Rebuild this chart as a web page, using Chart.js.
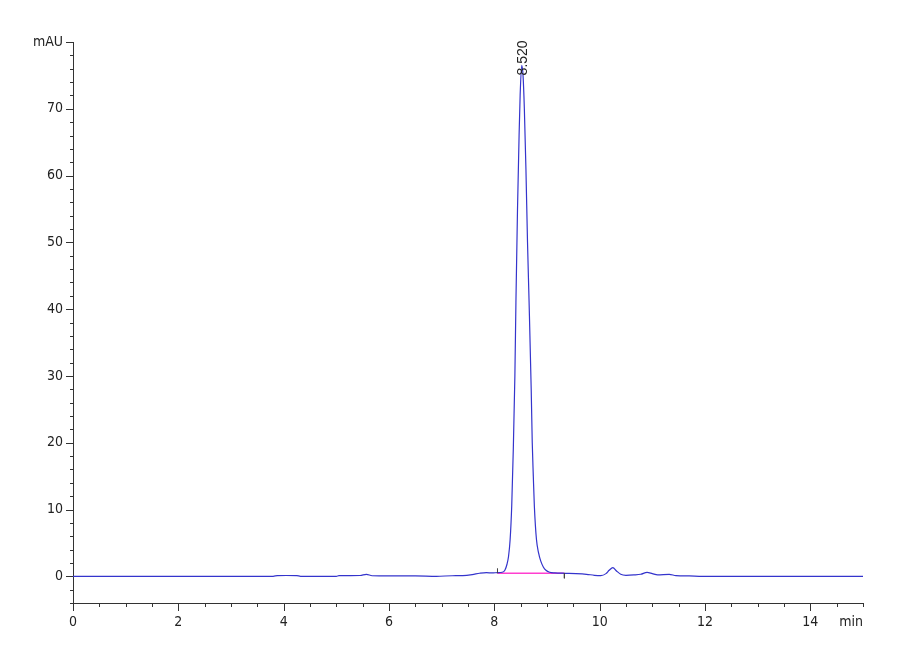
<!DOCTYPE html>
<html>
<head>
<meta charset="utf-8">
<script src="https://cdn.jsdelivr.net/npm/chart.js@4/dist/chart.umd.min.js"></script>
<style>
  html, body { margin: 0; padding: 0; background: #fff; }
  #wrap { width: 900px; height: 660px; }
</style>
</head>
<body>
<div id="wrap"><canvas id="chrom"></canvas></div>
<script>
// retention time (min) and detector signal (mAU)
var times = [0, 3.80, 3.88, 4.05, 4.25, 4.32, 5.00, 5.05, 5.45, 5.57, 5.68, 6.00, 6.50, 6.90,
  7.20, 7.40, 7.58, 7.72, 7.85, 7.96, 8.06, 8.15, 8.20, 8.24, 8.27, 8.30, 8.33, 8.36, 8.39,
  8.41, 8.44, 8.47, 8.49, 8.52, 8.545, 8.57, 8.60, 8.63, 8.66, 8.70, 8.72, 8.74, 8.76, 8.80,
  8.84, 8.88, 8.93, 8.98, 9.05, 9.15, 9.35, 9.55, 9.75, 9.90, 10.02, 10.12, 10.18, 10.25,
  10.32, 10.40, 10.50, 10.65, 10.78, 10.90, 11.00, 11.10, 11.32, 11.45, 11.70, 11.95, 12.5, 15];
var signal = [0, 0, 0.1, 0.12, 0.1, 0, 0, 0.1, 0.12, 0.3, 0.08, 0.05, 0.05, 0,
  0.08, 0.1, 0.25, 0.45, 0.55, 0.5, 0.55, 0.6, 0.9, 1.8, 3, 5.5, 10.5, 19, 30,
  41, 55, 66, 72, 76.5, 75, 70, 61, 50, 41, 28, 20, 15, 10.5, 5.5,
  3.5, 2.3, 1.4, 0.9, 0.6, 0.5, 0.45, 0.4, 0.3, 0.15, 0.1, 0.4, 0.9, 1.3,
  0.8, 0.3, 0.15, 0.2, 0.3, 0.6, 0.4, 0.2, 0.3, 0.1, 0.05, 0, 0, 0];

// integrated peak
var peakTime = 8.52;
var peakHeight = 76.5;
var peakStart = 8.06;
var peakEnd = 9.33;
var baselineLevel = 0.45;
var startMark = 1.2;
var endMark = -0.3;

var xTickLabels = [0, 2, 4, 6, 8, 10, 12, 14];
var yTickLabels = [0, 10, 20, 30, 40, 50, 60, 70];
var yUnit = 'mAU';
var xUnit = 'min';

var AXIS = '#333';
var TICK_FONT = "'Liberation Sans Narrow', 'DejaVu Sans Condensed', 'Liberation Sans', sans-serif";

var trace = times.map(function (t, i) { return { x: t, y: signal[i] }; });

// tick marks (long on labelled values) and the peak / unit labels
var decorations = {
  id: 'decorations',
  afterDraw: function (chart) {
    var c = chart.ctx, xs = chart.scales.x, ys = chart.scales.y;
    var area = chart.chartArea;
    c.save();
    c.strokeStyle = AXIS;
    c.lineWidth = 1;
    c.beginPath();
    for (var v = -4; v <= 80; v += 2) {
      var py = Math.round(ys.getPixelForValue(v)) + 0.5;
      var len = (v % 10 === 0) ? 7 : 3;
      c.moveTo(area.left - len, py);
      c.lineTo(area.left, py);
    }
    for (var k = 0; k <= 30; k++) {
      var t = k / 2;
      var px = Math.round(xs.getPixelForValue(t)) + 0.5;
      var l2 = (t % 2 === 0) ? 8 : 4;
      c.moveTo(px, area.bottom);
      c.lineTo(px, area.bottom + l2);
    }
    c.stroke();

    c.fillStyle = '#222';
    c.font = "14px " + TICK_FONT;
    c.textAlign = 'right';
    c.textBaseline = 'middle';
    c.fillText(xUnit, area.right, area.bottom + 19);

    // retention time label, rotated over the apex
    var ax = xs.getPixelForValue(peakTime) + 1;
    var ay = ys.getPixelForValue(peakHeight) + 10;
    c.translate(ax, ay);
    c.rotate(-Math.PI / 2);
    c.font = "14px 'Liberation Sans', 'DejaVu Sans', sans-serif";
    c.textAlign = 'left';
    c.fillText(peakTime.toFixed(3), 0, 0);
    c.restore();
  }
};

new Chart(document.getElementById('chrom'), {
  type: 'line',
  data: {
    datasets: [{
      data: trace,
      borderColor: '#3434cc',
      borderWidth: 1.2,
      pointRadius: 0,
      cubicInterpolationMode: 'monotone',
      order: 1
    }, {
      data: [{ x: peakStart, y: baselineLevel }, { x: peakEnd, y: baselineLevel }],
      borderColor: '#ff3fcf',
      borderWidth: 1.5,
      pointRadius: 0,
      order: 2
    }, {
      data: [{ x: peakStart, y: baselineLevel }, { x: peakStart, y: startMark }],
      borderColor: '#444',
      borderWidth: 1,
      pointRadius: 0,
      order: 0
    }, {
      data: [{ x: peakEnd, y: baselineLevel }, { x: peakEnd, y: endMark }],
      borderColor: '#444',
      borderWidth: 1,
      pointRadius: 0,
      order: 0
    }]
  },
  options: {
    responsive: true,
    maintainAspectRatio: false,
    animation: false,
    layout: { padding: { top: 42, right: 37, left: 0, bottom: 0 } },
    plugins: { legend: { display: false }, tooltip: { enabled: false } },
    scales: {
      x: {
        type: 'linear',
        min: 0,
        max: 15,
        grid: { display: false, drawTicks: true, tickLength: 8 },
        border: { display: true, color: AXIS, width: 1 },
        ticks: {
          stepSize: 0.5,
          autoSkip: false,
          maxRotation: 0,
          padding: 3,
          color: '#222',
          font: { family: TICK_FONT, size: 14 },
          callback: function (v) { return xTickLabels.indexOf(v) >= 0 ? String(v) : ''; }
        },
        afterFit: function (s) { s.height = 57; }
      },
      y: {
        min: -4,
        max: 80,
        grid: { display: false, drawTicks: true, tickLength: 7 },
        border: { display: true, color: AXIS, width: 1 },
        ticks: {
          stepSize: 2,
          autoSkip: false,
          padding: 3,
          color: '#222',
          font: { family: TICK_FONT, size: 14 },
          callback: function (v) {
            if (v === 80) return yUnit;
            return yTickLabels.indexOf(v) >= 0 ? String(v) : '';
          }
        },
        afterFit: function (s) { s.width = 73; }
      }
    }
  },
  plugins: [decorations]
});
</script>
</body>
</html>
